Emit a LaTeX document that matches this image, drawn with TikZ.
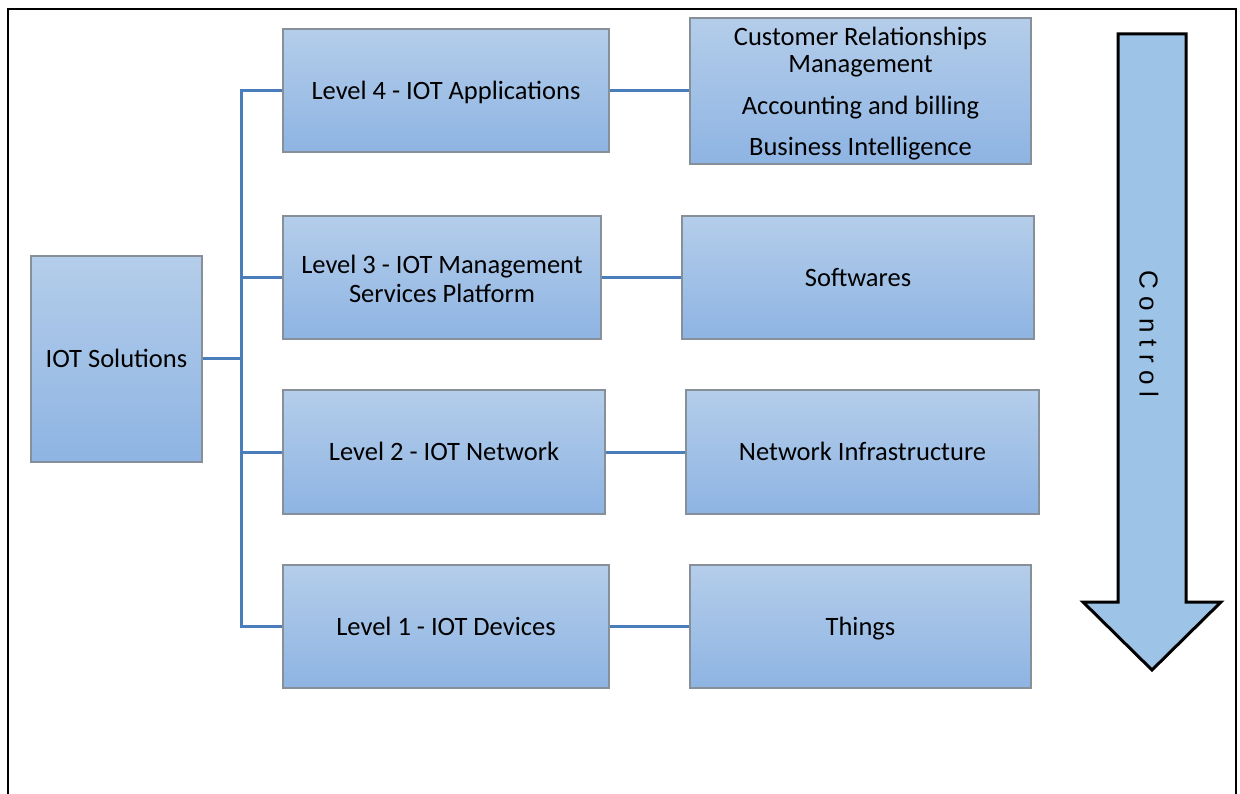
\documentclass[tikz,border=0pt]{standalone}
\usepackage{fontspec}
\setmainfont{Carlito}
\newfontfamily\arrowfont{Liberation Sans}
\definecolor{boxtop}{HTML}{B4CDEA}
\definecolor{boxbot}{HTML}{8EB4E3}
\definecolor{boxline}{HTML}{878F99}
\definecolor{linkblue}{HTML}{4A7EBB}
\definecolor{arrowfill}{HTML}{9DC3E6}
\tikzset{
  levelbox/.style={draw=boxline, line width=1.3pt, top color=boxtop, bottom color=boxbot,
    rectangle, inner sep=0pt},
  boxtext/.style={anchor=base, inner sep=0pt, align=center, text=black,
    font=\fontsize{26.5}{29.3}\selectfont},
  link/.style={draw=linkblue, line width=3pt},
}
\begin{document}
\begin{tikzpicture}[x=1pt, y=-1pt]
\useasboundingbox (0,0) rectangle (1240,794);
% outer frame (open at the bottom)
\draw[line width=2.6pt] (8,800) -- (8,9) -- (1236,9) -- (1236,800);

% boxes
\node[levelbox, minimum width=171pt, minimum height=206pt] (sol) at (116.5,359) {};
\node[levelbox, minimum width=326pt, minimum height=123pt] (l4) at (446,90.5) {};
\node[levelbox, minimum width=318pt, minimum height=123pt] (l3) at (442,277.5) {};
\node[levelbox, minimum width=322pt, minimum height=124pt] (l2) at (444,452) {};
\node[levelbox, minimum width=326pt, minimum height=123pt] (l1) at (446,626.5) {};
\node[levelbox, minimum width=341pt, minimum height=146pt] (crm) at (860.5,91) {};
\node[levelbox, minimum width=352pt, minimum height=123pt] (sw) at (858,277.5) {};
\node[levelbox, minimum width=353pt, minimum height=124pt] (ni) at (862.5,452) {};
\node[levelbox, minimum width=341pt, minimum height=123pt] (th) at (860.5,626.5) {};

% box texts, placed by the baseline of their last line
\node[boxtext] (solt) at ([yshift=-8pt]sol.center) {IOT Solutions};
\node[boxtext] (l4t) at ([yshift=-8.8pt]l4.center) {Level 4 - IOT Applications};
\node[boxtext] (l3t) at (442,302.6) {Level 3 - IOT Management\\Services Platform};
\node[boxtext] (l2t) at ([yshift=-8.6pt]l2.center) {Level 2 - IOT Network};
\node[boxtext] (l1t) at ([yshift=-8.8pt]l1.center) {Level 1 - IOT Devices};
\node[boxtext, font=\fontsize{26.5}{27}\selectfont] (crmt) at (860.5,156)
  {Customer Relationships\\Management\\[15pt]Accounting and billing\\[14pt]Business Intelligence};
\node[boxtext] (swt) at ([yshift=-8.6pt]sw.center) {Softwares};
\node[boxtext] (nit) at ([yshift=-8.6pt]ni.center) {Network Infrastructure};
\node[boxtext] (tht) at ([yshift=-8.8pt]th.center) {Things};

% tree connectors
\coordinate (trunk) at (241.5,0);
\draw[link] (sol.east) -- (sol.east -| trunk);
\draw[link] (l4.west) -- (l4.west -| trunk) -- (l1.west -| trunk) -- (l1.west);
\draw[link] (l3.west) -- (l3.west -| trunk);
\draw[link] (l2.west) -- (l2.west -| trunk);
\draw[link] (l4.east) -- (l4.east -| crm.west);
\draw[link] (l3.east) -- (l3.east -| sw.west);
\draw[link] (l2.east) -- (l2.east -| ni.west);
\draw[link] (l1.east) -- (l1.east -| th.west);

% downward control arrow
\draw[line width=3pt, fill=arrowfill, line join=miter]
  (1118,34) -- (1186,34) -- (1186,602) -- (1221,602) -- (1152,670)
  -- (1083,602) -- (1118,602) -- cycle;
\node[rotate=-90, font=\arrowfont\fontsize{26}{30}\selectfont, inner sep=0pt] (ctl) at (1149,334) {C o n t r o l};
\end{tikzpicture}
\end{document}
